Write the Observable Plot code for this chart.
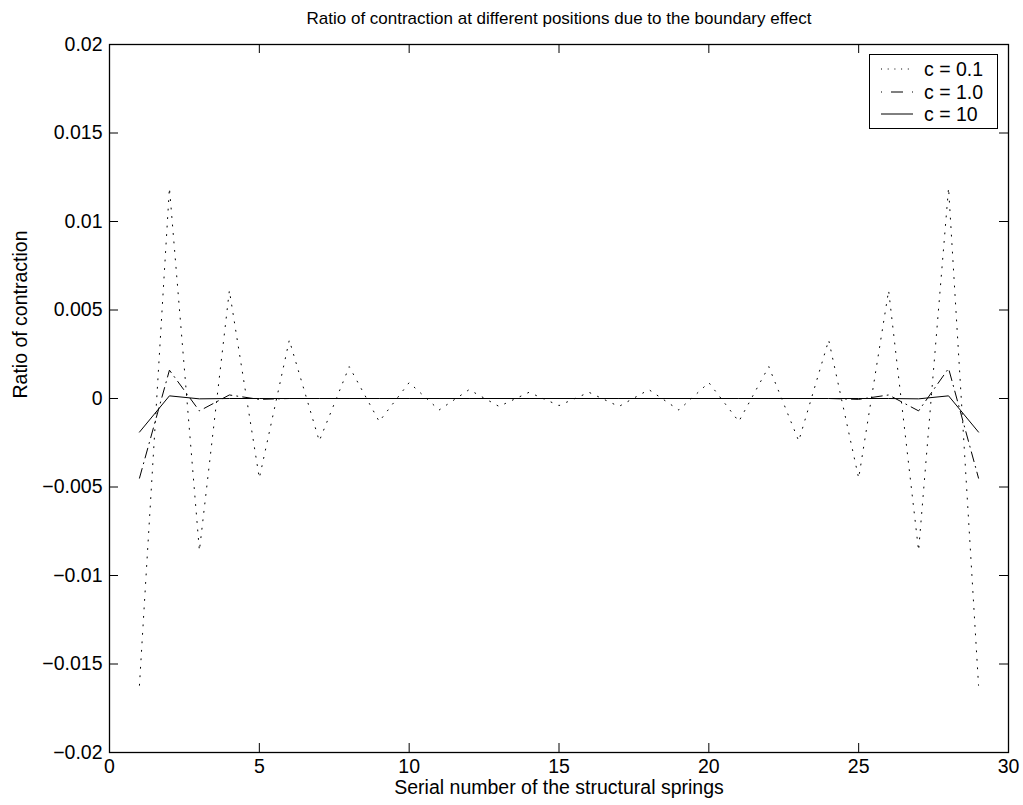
<!DOCTYPE html>
<html>
<head>
<meta charset="utf-8">
<script src="https://cdn.jsdelivr.net/npm/d3@7"></script>
<script src="https://cdn.jsdelivr.net/npm/@observablehq/plot@0.6"></script>
<style>
  html, body { margin: 0; padding: 0; background: #fff; }
  #wrap { position: relative; width: 1023px; height: 805px; font-family: "Liberation Sans", Arial, Helvetica, sans-serif; }
  #legend { position: absolute; left: 869px; top: 54px; width: 127px; height: 73px; border: 1px solid #000; background: #fff; box-sizing: content-box; }
  #legend .row { position: absolute; left: 0; height: 22px; width: 127px; }
  #legend svg { position: absolute; left: 10px; top: 0; }
  #legend span { position: absolute; left: 54px; top: 0; line-height: 22px; font-size: 19.5px; color: #000; white-space: nowrap; }
</style>
</head>
<body>
<div id="wrap"></div>
<script>
// ---- data ----
const springs = [1,2,3,4,5,6,7,8,9,10,11,12,13,14,15,16,17,18,19,20,21,22,23,24,25,26,27,28,29];
const c01 = [-0.0162, 0.0119, -0.0086, 0.0061, -0.0045, 0.0033, -0.0024, 0.0018, -0.0013, 0.0009,
             -0.00065, 0.0005, -0.00045, 0.00035, -0.0004, 0.00035, -0.00045, 0.0005, -0.00065, 0.0009,
             -0.0013, 0.0018, -0.0024, 0.0033, -0.0045, 0.0061, -0.0086, 0.0119, -0.0162];
const c1 = [-0.0045, 0.0016, -0.0007, 0.0002, -0.00005, 0, 0, 0, 0, 0,
            0, 0, 0, 0, 0, 0, 0, 0, 0, 0,
            0, 0, 0, 0, -0.00005, 0.0002, -0.0007, 0.0017, -0.0045];
const c10 = [-0.0019, 0.00015, -0.00002, 0, 0, 0, 0, 0, 0, 0,
             0, 0, 0, 0, 0, 0, 0, 0, 0, 0,
             0, 0, 0, 0, 0, 0, -0.00002, 0.00015, -0.0019];
const seriesNames = ["c = 0.1", "c = 1.0", "c = 10"];
const xTicks = [0, 5, 10, 15, 20, 25, 30];
const yTicks = [-0.02, -0.015, -0.01, -0.005, 0, 0.005, 0.01, 0.015, 0.02];
const yTickLabels = ["\u22120.02", "\u22120.015", "\u22120.01", "\u22120.005", "0", "0.005", "0.01", "0.015", "0.02"];
const titleText = "Ratio of contraction at different positions due to the boundary effect";
const xLabel = "Serial number of the structural springs";
const yLabel = "Ratio of contraction";

// ---- layout ----
const W = 1023, H = 805;
const mL = 109, mR = 15, mT = 44, mB = 53;
const innerW = W - mL - mR, innerH = H - mT - mB;
const tickLen = 9;
const fs = 19.5;
const styles = [
  {dash: "1 7.5", width: 1, legendDash: "1 5.7"},
  {dash: "10 5 1 5", width: 1, legendDash: "1 9 12 9 1"},
  {dash: null, width: 1, legendDash: null}
];

const rows = (vals) => springs.map((s, i) => ({s, v: vals[i]}));

const plot = Plot.plot({
  width: W, height: H,
  marginLeft: mL, marginRight: mR, marginTop: mT, marginBottom: mB,
  style: {fontFamily: "'Liberation Sans', Arial, Helvetica, sans-serif", fontSize: fs + "px", color: "#000", background: "#fff"},
  x: {domain: [0, 30]},
  y: {domain: [-0.02, 0.02]},
  marks: [
    Plot.lineY(rows(c01), {x: "s", y: "v", stroke: "#000", strokeWidth: styles[0].width, strokeDasharray: styles[0].dash}),
    Plot.lineY(rows(c1), {x: "s", y: "v", stroke: "#000", strokeWidth: styles[1].width, strokeDasharray: styles[1].dash}),
    Plot.lineY(rows(c10), {x: "s", y: "v", stroke: "#000", strokeWidth: styles[2].width}),
    // inward ticks on all four sides
    Plot.tickX(xTicks, {x: d => d, stroke: "#000", insetTop: innerH - tickLen}),
    Plot.tickX(xTicks, {x: d => d, stroke: "#000", insetBottom: innerH - tickLen}),
    Plot.tickY(yTicks, {y: d => d, stroke: "#000", insetRight: innerW - tickLen}),
    Plot.tickY(yTicks, {y: d => d, stroke: "#000", insetLeft: innerW - tickLen}),
    Plot.frame({stroke: "#000", strokeWidth: 1.3}),
    Plot.axisX(xTicks, {tickSize: 0, tickPadding: 7, label: null, fontSize: fs}),
    Plot.axisY(yTicks, {tickSize: 0, tickPadding: 7, label: null, fontSize: fs,
      tickFormat: d => yTickLabels[yTicks.indexOf(d)]}),
    Plot.text([titleText], {frameAnchor: "top", dy: -33, fontSize: 17, text: d => d}),
    Plot.text([xLabel], {frameAnchor: "bottom", dy: 41, fontSize: fs, text: d => d}),
    Plot.text([yLabel], {frameAnchor: "left", dx: -89, rotate: -90, fontSize: fs, text: d => d})
  ]
});

const wrap = document.getElementById("wrap");
wrap.appendChild(plot);

// legend (inside the axes, top-right)
const legend = document.createElement("div");
legend.id = "legend";
seriesNames.forEach((name, i) => {
  const row = document.createElement("div");
  row.className = "row";
  row.style.top = (3 + i * 22.5) + "px";
  const svgNS = "http://www.w3.org/2000/svg";
  const svg = document.createElementNS(svgNS, "svg");
  svg.setAttribute("width", "34");
  svg.setAttribute("height", "22");
  const ln = document.createElementNS(svgNS, "line");
  ln.setAttribute("x1", "1"); ln.setAttribute("x2", "33");
  ln.setAttribute("y1", "11"); ln.setAttribute("y2", "11");
  ln.setAttribute("stroke", "#000");
  ln.setAttribute("stroke-width", styles[i].width);
  if (styles[i].legendDash) ln.setAttribute("stroke-dasharray", styles[i].legendDash);
  svg.appendChild(ln);
  row.appendChild(svg);
  const sp = document.createElement("span");
  sp.textContent = name;
  row.appendChild(sp);
  legend.appendChild(row);
});
wrap.appendChild(legend);
</script>
</body>
</html>
